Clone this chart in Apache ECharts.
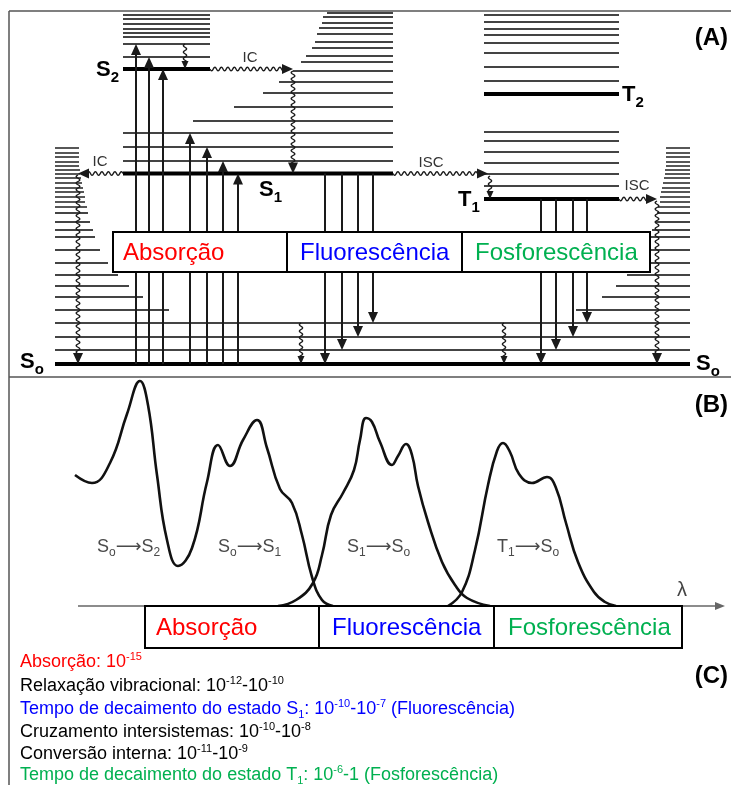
<!DOCTYPE html>
<html>
<head>
<meta charset="utf-8">
<script src="https://cdn.jsdelivr.net/npm/echarts@6.0.0/dist/echarts.min.js"></script>
<style>html,body{margin:0;padding:0;background:#fff;}#chart{width:731px;height:785px;}</style>
</head>
<body>
<div id="chart"></div>
<script>
// ================= DATA =================
// Panel (A) Jablonski diagram — energy levels (vertical value, diagram units) and horizontal extents
const s0Energy = 364;
const s0Span = [55, 690];
const s0Vib = [350, 337, 323, 310, 297, 286, 275, 263, 250, 237, 230, 222, 213, 207, 202, 197, 192, 188, 183, 178, 174, 170, 166, 162, 157, 153, 148];
const s0VibReach = [635, 635, 635, 114, 88, 74, 63, 53, 45, 40, 38, 35, 33, 32, 30, 30, 29, 28, 27, 26, 25, 25, 24, 24, 24, 24, 24];
const s1Energy = 173.5;
const s1Span = [123, 393];
const s1Vib = [161, 147, 133, 121, 107, 93, 82, 71, 62, 56, 48, 42, 34, 28, 23, 17, 13];
const s1VibStart = [123, 123, 123, 193, 234, 263, 279, 293, 301, 306, 312, 315, 317, 319, 322, 323, 327];
const s2Energy = 69;
const s2Span = [123, 210];
const s2Vib = [57, 44, 37, 33, 29, 24, 19, 15];
const t1Energy = 199;
const t2Energy = 94;
const tSpan = [484, 619];
const tVib = [186, 174, 163, 152, 141, 132, 81, 67, 53, 43, 35, 29, 22, 15];

const absorptionX = [136, 149, 163, 190, 207, 223, 238];
const absorptionTo = [44, 57, 69, 133, 147, 161, 173.5];
const fluorescenceX = [325, 342, 358, 373];
const fluorescenceTo = [364, 350, 337, 323];
const phosphorescenceX = [541, 556, 573, 587];
const phosphorescenceTo = [364, 350, 337, 323];

// non-radiative (wavy) transitions: [x1, y1, x2, y2, small head?]
const wavyTransitions = [
  [185, 44, 185, 69, 1],
  [210, 69, 293, 69, 0],
  [293, 71, 293, 173.5, 0],
  [123, 173.5, 78, 173.5, 0],
  [78, 175, 78, 364, 0],
  [301, 323, 301, 364, 1],
  [393, 173.5, 488, 173.5, 0],
  [490, 176, 490, 199, 1],
  [504, 323, 504, 364, 1],
  [619, 199, 657, 199, 0],
  [657, 201, 657, 364, 0]
];

const boxLabels = ['Absorção', 'Fluorescência', 'Fosforescência'];
const boxColors = ['#FF0000', '#0000FF', '#00B050'];
const boxEdgesA = [113, 287, 462, 650];
const boxEdgesB = [145, 319, 494, 682];

// Panel (B) spectra (wavelength position, intensity drawn top-down)
const absorptionCurve = [[75,475],[92,483],[110,463],[127,414],[140,381],[148,405],[157,475],[167,540],[178,566],[192,548],[207,482],[218,445],[230,466],[243,440],[257,420],[267,448],[280,489],[292,503],[302,535],[312,577],[322,600],[333,606]];
const fluorescenceCurve = [[278,606],[296,600],[313,583],[322,555],[331,515],[343,493],[354,470],[360,440],[366,418],[372,422],[380,442],[392,465],[398,456],[406,444],[412,455],[418,486],[428,522],[442,562],[455,585],[467,598],[490,606]];
const phosphorescenceCurve = [[448,606],[462,592],[475,550],[488,485],[497,451],[503,443],[510,452],[519,474],[532,483],[547,477],[556,488],[566,523],[578,562],[594,592],[605,602],[616,606]];

// Panel (C) time scales
const timeLines = [
  {color: '#FF0000', parts: [['n','Absorção: 10'],['p','-15']]},
  {color: '#000000', parts: [['n','Relaxação vibracional: 10'],['p','-12'],['n','-10'],['p','-10']]},
  {color: '#0000FF', parts: [['n','Tempo de decaimento do estado S'],['b','1'],['n',': 10'],['p','-10'],['n','-10'],['p','-7'],['n',' (Fluorescência)']]},
  {color: '#000000', parts: [['n','Cruzamento intersistemas: 10'],['p','-10'],['n','-10'],['p','-8']]},
  {color: '#000000', parts: [['n','Conversão interna: 10'],['p','-11'],['n','-10'],['p','-9']]},
  {color: '#00B050', parts: [['n','Tempo de decaimento do estado T'],['b','1'],['n',': 10'],['p','-6'],['n','-1 (Fosforescência)']]}
];

// ================= DRAWING =================
const chart = echarts.init(document.getElementById('chart'), null, {renderer: 'canvas'});
const INK = '#1a1a1a', LEVEL = '#444';

function head(api, tipV, u, len, half, color) {
  const tip = api.coord(tipV);
  const bx = tip[0] - u[0] * len, by = tip[1] - u[1] * len;
  const px = -u[1], py = u[0];
  return {type: 'polygon', shape: {points: [tip, [bx + px * half, by + py * half], [bx - px * half, by - py * half]]}, style: {fill: color}};
}
function unit(a, b) { const dx = b[0]-a[0], dy = b[1]-a[1], L = Math.hypot(dx, dy); return [dx/L, dy/L, L]; }

function hSegs(rows, width, color) {
  return {
    type: 'custom', coordinateSystem: 'cartesian2d', silent: true, z: 2, clip: false,
    data: rows,
    renderItem: (p, api) => {
      const r = rows[p.dataIndex];
      const a = api.coord([r[0], r[2]]), b = api.coord([r[1], r[2]]);
      return {type: 'line', shape: {x1: a[0], y1: a[1], x2: b[0], y2: b[1]}, style: {stroke: color, lineWidth: width}};
    }
  };
}
function straightArrows(rows, color, width, len, half, z) {
  return {
    type: 'custom', coordinateSystem: 'cartesian2d', silent: true, z: z, clip: false,
    data: rows,
    renderItem: (p, api) => {
      const r = rows[p.dataIndex];
      const A = [r[0], r[1]], B = [r[2], r[3]];
      const a = api.coord(A), b = api.coord(B);
      const u = unit(a, b);
      return {type: 'group', children: [
        {type: 'line', shape: {x1: a[0], y1: a[1], x2: b[0] - u[0]*(len-2), y2: b[1] - u[1]*(len-2)}, style: {stroke: color, lineWidth: width}},
        head(api, B, u, len, half, color)
      ]};
    }
  };
}
function wavyArrows(rows) {
  return {
    type: 'custom', coordinateSystem: 'cartesian2d', silent: true, z: 4, clip: false,
    data: rows,
    renderItem: (p, api) => {
      const r = rows[p.dataIndex];
      const a = api.coord([r[0], r[1]]), b = api.coord([r[2], r[3]]);
      const u = unit(a, b);
      const small = r[4] === 1;
      const len = small ? 8 : 11, half = small ? 3.5 : 5;
      const amp = small ? 1.6 : 1.8, wl = 6.5;
      const pts = [];
      const stop = u[2] - len + 1;
      for (let s = 0; s <= stop; s += 0.5) {
        const o = amp * Math.sin(2 * Math.PI * s / wl);
        pts.push([a[0] + u[0]*s - u[1]*o, a[1] + u[1]*s + u[0]*o]);
      }
      return {type: 'group', children: [
        {type: 'polyline', shape: {points: pts}, style: {stroke: INK, lineWidth: 1.4, fill: null}},
        head(api, [r[2], r[3]], u, len, half, INK)
      ]};
    }
  };
}
function boxes(edges, top, bottom, pad) {
  const rows = boxLabels.map((t, i) => [edges[i], top, edges[i+1], bottom, i]);
  return {
    type: 'custom', coordinateSystem: 'cartesian2d', silent: true, z: 8, clip: false,
    data: rows,
    renderItem: (p, api) => {
      const r = rows[p.dataIndex];
      const a = api.coord([r[0], r[1]]), b = api.coord([r[2], r[3]]);
      return {type: 'group', children: [
        {type: 'rect', shape: {x: a[0], y: a[1], width: b[0]-a[0], height: b[1]-a[1]}, style: {fill: '#fff', stroke: '#000', lineWidth: 2}},
        {type: 'text', style: {x: a[0] + pad[r[4]], y: (a[1]+b[1])/2 + 1, text: boxLabels[r[4]], fill: boxColors[r[4]], fontSize: 24, fontFamily: 'Liberation Sans, Arial, sans-serif', verticalAlign: 'middle', align: 'left'}}
      ]};
    }
  };
}

// level rows
const thinRows = [];
s0Vib.forEach((y, i) => {
  const reach = s0VibReach[i];
  if (reach >= s0Span[1] - s0Span[0]) thinRows.push([s0Span[0], s0Span[1], y]);
  else { thinRows.push([s0Span[0], s0Span[0] + reach, y]); thinRows.push([s0Span[1] - reach, s0Span[1], y]); }
});
s1Vib.forEach((y, i) => thinRows.push([s1VibStart[i], s1Span[1], y]));
s2Vib.forEach(y => thinRows.push([s2Span[0], s2Span[1], y]));
tVib.forEach(y => thinRows.push([tSpan[0], tSpan[1], y]));
const thickRows = [
  [s0Span[0], s0Span[1], s0Energy],
  [s1Span[0], s1Span[1], s1Energy],
  [s2Span[0], s2Span[1], s2Energy],
  [tSpan[0], tSpan[1], t1Energy],
  [tSpan[0], tSpan[1], t2Energy]
];
const upRows = absorptionX.map((x, i) => [x, s0Energy, x, absorptionTo[i]]);
const downRows = fluorescenceX.map((x, i) => [x, s1Energy, x, fluorescenceTo[i]])
  .concat(phosphorescenceX.map((x, i) => [x, t1Energy, x, phosphorescenceTo[i]]));

// frame lines
const frameRows = [[9, 731, 11], [9, 731, 377]];

// text graphics
const FONT = 'Liberation Sans, Arial, sans-serif';
const stateRich = {
  m: {fontSize: 22, fontWeight: 'bold', fontFamily: FONT, lineHeight: 30, verticalAlign: 'middle', fill: '#000'},
  s: {fontSize: 15, fontWeight: 'bold', fontFamily: FONT, lineHeight: 12, verticalAlign: 'bottom', fill: '#000'}
};
function stateLabel(x, y, main, sub) {
  return {type: 'text', x: x, y: y, z: 20, style: {text: '{m|' + main + '}{s|' + sub + '}', rich: stateRich, verticalAlign: 'middle', align: 'left'}};
}
function plain(x, y, text, size, weight, color, align) {
  return {type: 'text', x: x, y: y, z: 20, style: {text: text, fontSize: size, fontWeight: weight || 'normal', fontFamily: FONT, fill: color || '#000', verticalAlign: 'middle', align: align || 'left'}};
}
const transRich = {
  m: {fontSize: 18, fontFamily: FONT, lineHeight: 24, verticalAlign: 'middle', fill: '#4a4a4a'},
  s: {fontSize: 12, fontFamily: FONT, lineHeight: 12, verticalAlign: 'bottom', fill: '#4a4a4a'},
  a: {fontSize: 18, fontFamily: 'DejaVu Sans, sans-serif', lineHeight: 24, verticalAlign: 'middle', fill: '#4a4a4a'}
};
function transLabel(x, y, a, as, b, bs) {
  return {type: 'text', x: x, y: y, z: 20, style: {text: '{m|' + a + '}{s|' + as + '}{a|⟶}{m|' + b + '}{s|' + bs + '}', rich: transRich, verticalAlign: 'middle', align: 'left'}};
}
const CFONT = 'Liberation Sans, Arial, sans-serif';
const timeRich = {
  n: {fontSize: 18, fontFamily: CFONT, lineHeight: 22, verticalAlign: 'middle'},
  p: {fontSize: 11, fontFamily: CFONT, lineHeight: 11, verticalAlign: 'top'},
  b: {fontSize: 11, fontFamily: CFONT, lineHeight: 11, verticalAlign: 'bottom'}
};
const timeY = [662, 686, 709, 732, 754, 775];
const graphics = [
  {type: 'line', z: 20, shape: {x1: 9, y1: 11, x2: 9, y2: 785}, style: {stroke: '#555', lineWidth: 1.5}},
  stateLabel(96, 70, 'S', '2'),
  stateLabel(259, 190, 'S', '1'),
  stateLabel(458, 200, 'T', '1'),
  stateLabel(622, 95, 'T', '2'),
  stateLabel(20, 362, 'S', 'o'),
  stateLabel(696, 364, 'S', 'o'),
  plain(250, 58, 'IC', 15, 'normal', '#333', 'center'),
  plain(100, 162, 'IC', 15, 'normal', '#333', 'center'),
  plain(431, 163, 'ISC', 15, 'normal', '#333', 'center'),
  plain(637, 186, 'ISC', 15, 'normal', '#333', 'center'),
  plain(728, 38, '(A)', 24, 'bold', '#000', 'right'),
  plain(728, 405, '(B)', 24, 'bold', '#000', 'right'),
  plain(728, 676, '(C)', 24, 'bold', '#000', 'right'),
  plain(682, 590, 'λ', 20, 'normal', '#444', 'center'),
  transLabel(97, 547, 'S', 'o', 'S', '2'),
  transLabel(218, 547, 'S', 'o', 'S', '1'),
  transLabel(347, 547, 'S', '1', 'S', 'o'),
  transLabel(497, 547, 'T', '1', 'S', 'o')
];
timeLines.forEach((ln, i) => {
  const rich = {};
  Object.keys(timeRich).forEach(k => { rich[k] = Object.assign({fill: ln.color}, timeRich[k]); });
  graphics.push({type: 'text', x: 20, y: timeY[i], z: 20, style: {
    text: ln.parts.map(p => '{' + p[0] + '|' + p[1] + '}').join(''), rich: rich, verticalAlign: 'middle', align: 'left'}});
});

const curveStyle = {color: '#111', width: 2.6};
const option = {
  animation: false,
  backgroundColor: '#fff',
  grid: {left: 0, right: 0, top: 0, bottom: 0, containLabel: false},
  xAxis: {type: 'value', min: 0, max: 731, show: false},
  yAxis: {type: 'value', min: 0, max: 785, inverse: true, show: false},
  graphic: graphics,
  series: [
    hSegs(frameRows, 1.5, '#555'),
    hSegs(thinRows, 1.8, LEVEL),
    Object.assign(hSegs(thickRows, 4, '#000'), {z: 3}),
    straightArrows(upRows, INK, 2, 11, 5, 5),
    straightArrows(downRows, INK, 2, 11, 5, 5),
    wavyArrows(wavyTransitions),
    boxes(boxEdgesA, 232, 272, [10, 13, 13]),
    straightArrows([[78, 606, 725, 606]], '#666', 1.5, 10, 4, 2),
    {type: 'line', data: absorptionCurve, smooth: 0.45, showSymbol: false, lineStyle: curveStyle, z: 4, silent: true},
    {type: 'line', data: fluorescenceCurve, smooth: 0.45, showSymbol: false, lineStyle: curveStyle, z: 4, silent: true},
    {type: 'line', data: phosphorescenceCurve, smooth: 0.45, showSymbol: false, lineStyle: curveStyle, z: 4, silent: true},
    boxes(boxEdgesB, 606, 648, [11, 13, 14])
  ]
};
chart.setOption(option);
</script>
</body>
</html>
